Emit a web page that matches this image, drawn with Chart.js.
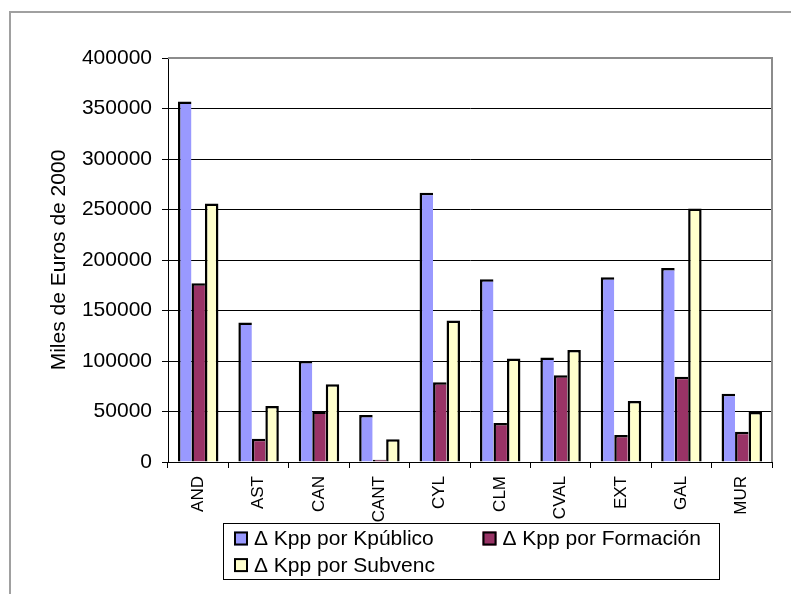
<!DOCTYPE html>
<html lang="es">
<head>
<meta charset="utf-8">
<title>Δ Kpp por región</title>
<script src="https://cdn.jsdelivr.net/npm/chart.js@4/dist/chart.umd.min.js"></script>
<style>
  html, body { margin: 0; padding: 0; background: #fff; }
  #wrap { width: 791px; height: 594px; }
</style>
</head>
<body>
<div id="wrap"><canvas id="grafico" width="791" height="594"></canvas></div>
<script>
// Regiones (eje de categorías)
const regiones = ['AND', 'AST', 'CAN', 'CANT', 'CYL', 'CLM', 'CVAL', 'EXT', 'GAL', 'MUR'];

// Series, en miles de euros de 2000
const kpPublico   = [357000, 138000, 100000, 46500, 266500, 181000, 103500, 183000, 192000, 67500];
const kpFormacion = [177000,  23000,  50000,  2300,  79000,  38500,  86000,  26700,  84500, 30000];
const kpSubvenc   = [256000,  55500,  77000, 22500, 140000, 102500, 111000,  60500, 251000, 49500];

const nombresSeries = ['Δ Kpp por Kpúblico', 'Δ Kpp por Formación', 'Δ Kpp por Subvenc'];

// Marcas del eje de valores
const marcasY = [0, 50000, 100000, 150000, 200000, 250000, 300000, 350000, 400000];
const tituloY = 'Miles de Euros de 2000';

const FUENTE = '"Liberation Sans", Arial, Helvetica, sans-serif';
Chart.defaults.font.family = FUENTE;
Chart.defaults.color = '#000';

// Marco exterior del gráfico y borde gris del área de trazado
const marcos = {
  id: 'marcos',
  beforeDraw(chart) {
    const { ctx, width, height } = chart;
    ctx.save();
    ctx.fillStyle = '#fff';
    ctx.fillRect(0, 0, width, height);
    ctx.strokeStyle = '#a0a0a0';
    ctx.lineWidth = 2;
    ctx.strokeRect(10, 12, width + 40, height + 40);
    ctx.restore();
  },
  afterDatasetsDraw(chart) {
    const { ctx, chartArea: a } = chart;
    ctx.save();
    ctx.strokeStyle = '#8c8c8c';
    ctx.lineWidth = 2;
    ctx.beginPath();
    ctx.moveTo(a.left, a.top);
    ctx.lineTo(a.right, a.top);
    ctx.lineTo(a.right, a.bottom);
    ctx.stroke();
    ctx.restore();
  }
};

// Leyenda enmarcada en dos columnas bajo el eje de categorías
const leyenda = {
  id: 'leyenda',
  afterDraw(chart, args, o) {
    const { ctx } = chart;
    ctx.save();
    ctx.strokeStyle = '#000';
    ctx.lineWidth = 1;
    ctx.strokeRect(o.x + 0.5, o.y + 0.5, o.w, o.h);
    ctx.font = o.size + 'px ' + FUENTE;
    ctx.textBaseline = 'middle';
    ctx.textAlign = 'left';
    chart.data.datasets.forEach((ds, i) => {
      const col = i % 2, fila = Math.floor(i / 2);
      const mx = o.x + o.pad + col * o.colW;
      const my = o.y + o.row0 + fila * o.rowH;
      ctx.fillStyle = ds.backgroundColor;
      ctx.fillRect(mx, my - o.box / 2, o.box, o.box);
      ctx.strokeStyle = '#000';
      ctx.lineWidth = 2;
      ctx.strokeRect(mx + 1, my - o.box / 2 + 1, o.box - 2, o.box - 2);
      ctx.fillStyle = '#000';
      ctx.fillText(ds.label, mx + o.box + 6, my + 1);
    });
    ctx.restore();
  }
};

// Bordes negros de las barras: el lado derecho lo aporta la barra contigua
const bordeBarra = { top: 2.5, left: 2.5, right: 0, bottom: 0 };
const bordeUltima = { top: 2.5, left: 2.5, right: 2.5, bottom: 0 };

new Chart(document.getElementById('grafico'), {
  type: 'bar',
  data: {
    labels: regiones,
    datasets: [
      { label: nombresSeries[0], data: kpPublico,   backgroundColor: '#9999FF', borderColor: '#000', borderWidth: bordeBarra },
      { label: nombresSeries[1], data: kpFormacion, backgroundColor: '#993366', borderColor: '#000', borderWidth: bordeBarra },
      { label: nombresSeries[2], data: kpSubvenc,   backgroundColor: '#FFFFCC', borderColor: '#000', borderWidth: bordeUltima }
    ]
  },
  options: {
    responsive: false,
    animation: false,
    devicePixelRatio: 1,
    layout: { padding: { top: 58, right: 19, bottom: 0, left: 0 } },
    datasets: { bar: { categoryPercentage: 0.67, barPercentage: 1.0, borderSkipped: 'start', inflateAmount: 0 } },
    plugins: {
      legend: { display: false },
      tooltip: { enabled: false },
      leyenda: { x: 223, y: 523, w: 496, h: 56, pad: 11, colW: 248.5, row0: 15.5, rowH: 26.6, box: 14, size: 21 }
    },
    scales: {
      x: {
        grid: { display: true, drawOnChartArea: false, drawTicks: true, tickLength: 6, color: '#000', offset: true },
        border: { display: true, color: '#000', width: 1 },
        ticks: { minRotation: 90, maxRotation: 90, autoSkip: false, padding: 8, font: { size: 17 }, color: '#000' },
        afterFit(scale) { scale.height = 132; }
      },
      y: {
        min: marcasY[0],
        max: marcasY[marcasY.length - 1],
        afterBuildTicks(scale) { scale.ticks = marcasY.map(v => ({ value: v })); },
        grid: {
          color: ctx => (ctx.tick && ctx.tick.value === marcasY[marcasY.length - 1]) ? 'rgba(0,0,0,0)' : '#000',
          tickColor: '#000',
          lineWidth: 1,
          drawTicks: true,
          tickLength: 6
        },
        border: { display: true, color: '#000', width: 1 },
        ticks: { padding: 10, font: { size: 21 }, color: '#000', callback: v => String(v) },
        title: { display: true, text: tituloY, font: { size: 21 }, color: '#000', padding: { top: 47, bottom: 0 } },
        afterFit(scale) { scale.width = 168; }
      }
    }
  },
  plugins: [marcos, leyenda]
});
</script>
</body>
</html>
